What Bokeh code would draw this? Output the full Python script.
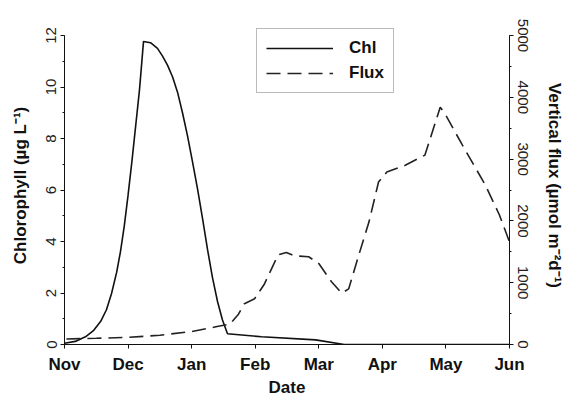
from bokeh.plotting import figure
from bokeh.models import Range1d, LinearAxis, SingleIntervalTicker, FixedTicker, Legend, LegendItem
from bokeh.embed import file_html
from bokeh.resources import INLINE

# ---- data (month index: 0 = 1 Nov ... 7 = 1 Jun) ----
month_ticks = [0, 1, 2, 3, 4, 5, 6, 7]
month_labels = ["Nov", "Dec", "Jan", "Feb", "Mar", "Apr", "May", "Jun"]

chl_month = [0, 0.17, 0.33, 0.46, 0.57, 0.66, 0.74, 0.82, 0.88, 0.94, 1.0, 1.06, 1.12,
             1.18, 1.243, 1.353, 1.463, 1.542, 1.62, 1.699, 1.778, 1.856, 1.935, 2.013,
             2.092, 2.171, 2.249, 2.328, 2.407, 2.485, 2.564, 3.1, 3.95, 4.4, 7.0]
chl_value = [0.05, 0.12, 0.3, 0.55, 0.9, 1.35, 1.98, 2.8, 3.6, 4.6, 5.8, 7.1, 8.5,
             9.9, 11.77, 11.72, 11.5, 11.2, 10.85, 10.4, 9.8, 9.0, 8.1, 7.1,
             6.05, 4.9, 3.7, 2.6, 1.67, 0.95, 0.42, 0.3, 0.18, 0.0, 0.0]

flux_month = [0.03, 0.5, 1.0, 1.5, 2.0, 2.4, 2.6, 2.73, 2.83, 2.99, 3.14, 3.36, 3.49, 3.62,
              3.84, 4.0, 4.2, 4.36, 4.47, 4.63, 4.79, 4.94, 5.07, 5.36, 5.67, 5.91, 5.99,
              6.26, 6.62, 6.84, 7.0]
flux_value = [90, 100, 115, 150, 210, 290, 330, 480, 660, 740, 970, 1450, 1490, 1435,
              1420, 1310, 1015, 830, 900, 1450, 1985, 2630, 2790, 2900, 3065, 3840, 3725,
              3225, 2580, 2100, 1660]

FONT = "Liberation Sans"
CHL_MAX = 12.35
FLUX_MAX = 5000 * CHL_MAX / 12

p = figure(width=568, height=400, output_backend="svg", toolbar_location=None,
           x_range=Range1d(0, 7), y_range=Range1d(0, CHL_MAX),
           min_border_left=64, min_border_right=59, min_border_top=26, min_border_bottom=56,
           x_axis_label="Date", y_axis_label="Chlorophyll (µg L⁻¹)")
p.extra_y_ranges = {"flux": Range1d(0, FLUX_MAX)}
p.outline_line_color = None
p.xgrid.visible = False
p.ygrid.visible = False
p.background_fill_color = "white"
p.border_fill_color = "white"

chl_r = p.line(chl_month, chl_value, line_color="#111111", line_width=1.6)
flux_r = p.line(flux_month, flux_value, y_range_name="flux", line_color="#222222",
                line_width=1.6, line_dash="14 7")

right = LinearAxis(y_range_name="flux", axis_label="Vertical flux (µmol m⁻²d⁻¹)")
p.add_layout(right, "right")

# x axis
xa = p.xaxis[0]
xa.ticker = FixedTicker(ticks=month_ticks, minor_ticks=[])
xa.major_label_overrides = {t: l for t, l in zip(month_ticks, month_labels)}
xa.major_label_text_font = FONT
xa.major_label_text_font_style = "bold"
xa.major_label_text_font_size = "17px"
xa.major_label_text_color = "#111111"
xa.major_label_standoff = 6
xa.axis_label_text_font = FONT
xa.axis_label_text_font_style = "bold"
xa.axis_label_text_font_size = "17px"
xa.axis_label_text_color = "#111111"
xa.axis_label_standoff = 1
xa.major_tick_out = 4
xa.major_tick_in = 0

# left axis
ya = p.yaxis[0]
ya.ticker = SingleIntervalTicker(interval=2, num_minor_ticks=2)
ya.bounds = (0, 12)
right.ticker = SingleIntervalTicker(interval=1000, num_minor_ticks=2)
right.bounds = (0, 5000)

for ax in (ya, right):
    ax.major_label_orientation = "vertical"
    ax.major_label_text_font = FONT
    ax.major_label_text_font_size = "15px"
    ax.major_label_text_color = "#222222"
    ax.major_label_standoff = 4
    ax.axis_label_text_font = FONT
    ax.axis_label_text_font_style = "bold"
    ax.axis_label_text_font_size = "17px"
    ax.axis_label_text_color = "#111111"
    ax.major_tick_out = 4
    ax.major_tick_in = 0
    ax.minor_tick_out = 2
    ax.minor_tick_in = 0
ya.axis_label_standoff = 14
right.axis_label_standoff = 14

for ax in (xa, ya, right):
    ax.axis_line_color = "#111111"
    ax.major_tick_line_color = "#111111"
    ax.minor_tick_line_color = "#111111"

legend = Legend(items=[LegendItem(label="Chl", renderers=[chl_r]),
                       LegendItem(label="Flux", renderers=[flux_r])],
                location=(192, 251))
legend.label_text_font = FONT
legend.label_text_font_style = "bold"
legend.label_text_font_size = "17px"
legend.label_text_color = "#111111"
legend.glyph_width = 67
legend.glyph_height = 20
legend.label_height = 20
legend.label_standoff = 16
legend.spacing = 5
legend.padding = 9
legend.margin = 0
legend.border_line_color = "#777777"
legend.border_line_width = 1.5
legend.background_fill_alpha = 1
p.add_layout(legend, "center")

open("out.html", "w").write(file_html(p, INLINE))
